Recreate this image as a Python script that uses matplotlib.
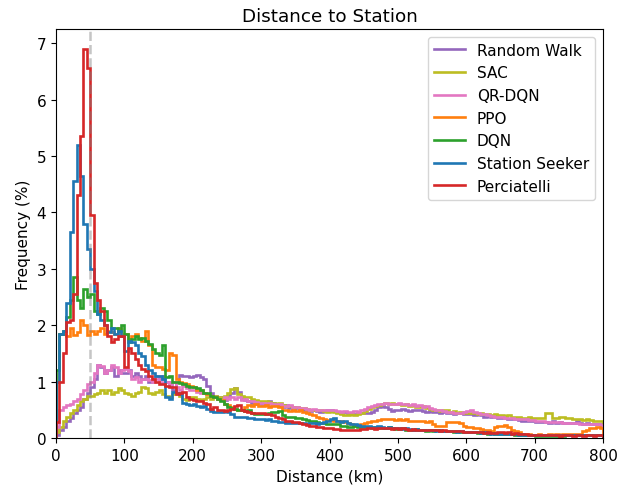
import numpy as np
import matplotlib
matplotlib.use("Agg")
import matplotlib.pyplot as plt

plt.rcParams["font.size"] = 11

# 5 km bins from 0 to 800 km, frequency in percent per bin
bin_edges = np.arange(0, 805, 5)

random_walk = [
    0.05, 0.15, 0.2, 0.3, 0.35, 0.45, 0.5, 0.55, 0.7, 0.8,
    0.9, 1.05, 1.3, 1.25, 1.15, 1.2, 1.25, 1.1, 1.2, 1.15,
    1.15, 1.2, 1.1, 1.15, 1.1, 1.05, 1.1, 1.0, 1.05, 1.1,
    1.05, 1.1, 1.0, 0.95, 0.85, 1.0, 1.12, 1.1, 1.1, 1.08,
    1.1, 1.12, 1.08, 1.05, 0.93, 0.8, 0.75, 0.7, 0.72, 0.68,
    0.75, 0.8, 0.88, 0.82, 0.7, 0.68, 0.65, 0.62, 0.6, 0.62,
    0.6, 0.58, 0.66, 0.62, 0.58, 0.56, 0.55, 0.58, 0.54, 0.55,
    0.53, 0.52, 0.5, 0.5, 0.48, 0.5, 0.48, 0.47, 0.48, 0.5,
    0.5, 0.48, 0.47, 0.45, 0.46, 0.44, 0.45, 0.43, 0.44, 0.45,
    0.45, 0.44, 0.47, 0.5, 0.55, 0.56, 0.55, 0.52, 0.48, 0.5,
    0.5, 0.52, 0.5, 0.48, 0.5, 0.49, 0.5, 0.48, 0.47, 0.48,
    0.47, 0.46, 0.45, 0.46, 0.44, 0.45, 0.43, 0.44, 0.45, 0.43,
    0.42, 0.43, 0.4, 0.42, 0.4, 0.38, 0.39, 0.38, 0.37, 0.36,
    0.36, 0.35, 0.34, 0.33, 0.33, 0.32, 0.31, 0.3, 0.31, 0.3,
    0.29, 0.28, 0.29, 0.28, 0.27, 0.3, 0.27, 0.28, 0.26, 0.27,
    0.27, 0.26, 0.3, 0.26, 0.25, 0.26, 0.25, 0.24, 0.25, 0.24,
]

sac = [
    0.1, 0.2, 0.3, 0.38, 0.45, 0.5, 0.58, 0.65, 0.7, 0.75,
    0.75, 0.78, 0.8, 0.85, 0.8, 0.85, 0.78, 0.82, 0.88, 0.85,
    0.8, 0.78, 0.75, 0.8, 0.82, 0.9, 0.88, 0.8, 0.78, 0.82,
    0.85, 0.78, 0.75, 0.72, 0.78, 0.8, 0.75, 0.7, 0.68, 0.72,
    0.72, 0.7, 0.68, 0.7, 0.72, 0.7, 0.75, 0.73, 0.72, 0.75,
    0.8, 0.87, 0.88, 0.78, 0.75, 0.73, 0.72, 0.7, 0.68, 0.66,
    0.66, 0.65, 0.63, 0.62, 0.6, 0.62, 0.58, 0.57, 0.56, 0.55,
    0.55, 0.54, 0.53, 0.52, 0.5, 0.5, 0.49, 0.5, 0.48, 0.47,
    0.48, 0.47, 0.45, 0.42, 0.4, 0.41, 0.42, 0.4, 0.42, 0.45,
    0.48, 0.52, 0.55, 0.56, 0.58, 0.6, 0.62, 0.6, 0.62, 0.6,
    0.6, 0.58, 0.6, 0.57, 0.58, 0.55, 0.55, 0.56, 0.53, 0.52,
    0.5, 0.5, 0.48, 0.5, 0.49, 0.47, 0.48, 0.45, 0.46, 0.45,
    0.44, 0.45, 0.44, 0.43, 0.44, 0.42, 0.43, 0.41, 0.42, 0.4,
    0.4, 0.39, 0.4, 0.38, 0.37, 0.38, 0.36, 0.36, 0.37, 0.35,
    0.35, 0.36, 0.35, 0.45, 0.45, 0.35, 0.36, 0.37, 0.38, 0.36,
    0.35, 0.34, 0.33, 0.34, 0.32, 0.33, 0.32, 0.31, 0.3, 0.3,
]

qr_dqn = [
    0.2, 0.5, 0.55, 0.58, 0.6, 0.65, 0.7, 0.78, 0.85, 0.95,
    1.0, 1.15, 1.3, 1.28, 1.15, 1.2, 1.3, 1.25, 1.15, 1.2,
    1.22, 1.18, 1.05, 1.08, 1.0, 1.05, 1.05, 1.02, 1.0, 1.05,
    1.0, 0.98, 1.0, 0.95, 1.0, 0.9, 0.85, 0.92, 0.88, 0.85,
    0.85, 0.82, 0.8, 0.8, 0.78, 0.75, 0.72, 0.7, 0.68, 0.72,
    0.7, 0.72, 0.7, 0.72, 0.68, 0.7, 0.65, 0.66, 0.63, 0.62,
    0.62, 0.6, 0.62, 0.6, 0.58, 0.6, 0.57, 0.56, 0.58, 0.55,
    0.55, 0.54, 0.53, 0.52, 0.5, 0.52, 0.5, 0.5, 0.49, 0.5,
    0.5, 0.49, 0.48, 0.47, 0.48, 0.46, 0.47, 0.48, 0.47, 0.5,
    0.52, 0.55, 0.56, 0.58, 0.6, 0.6, 0.62, 0.6, 0.61, 0.6,
    0.62, 0.6, 0.6, 0.58, 0.6, 0.57, 0.58, 0.55, 0.56, 0.54,
    0.52, 0.5, 0.5, 0.48, 0.47, 0.46, 0.45, 0.45, 0.44, 0.46,
    0.48, 0.5, 0.46, 0.44, 0.42, 0.42, 0.4, 0.39, 0.38, 0.38,
    0.37, 0.36, 0.36, 0.35, 0.34, 0.34, 0.33, 0.33, 0.32, 0.32,
    0.31, 0.3, 0.3, 0.29, 0.29, 0.28, 0.28, 0.28, 0.27, 0.27,
    0.27, 0.26, 0.26, 0.25, 0.25, 0.24, 0.25, 0.24, 0.24, 0.23,
]

ppo = [
    1.0, 1.85, 1.85, 1.8, 1.95, 1.83, 1.88, 2.1, 2.0, 1.83,
    1.9, 1.85, 1.9, 1.95, 1.85, 1.9, 1.88, 1.85, 1.95, 1.8,
    1.85, 1.75, 1.8, 1.85, 1.78, 1.72, 1.9, 1.65, 1.3, 1.25,
    1.25, 1.22, 1.2, 1.5, 1.48, 1.05, 1.0, 0.98, 0.95, 0.92,
    0.9, 0.85, 0.85, 0.8, 0.78, 0.75, 0.72, 0.7, 0.68, 0.6,
    0.58, 0.55, 0.52, 0.5, 0.5, 0.55, 0.58, 0.56, 0.6, 0.57,
    0.57, 0.58, 0.55, 0.56, 0.57, 0.55, 0.5, 0.5, 0.48, 0.5,
    0.48, 0.5, 0.47, 0.45, 0.42, 0.4, 0.38, 0.35, 0.34, 0.32,
    0.32, 0.31, 0.31, 0.3, 0.28, 0.27, 0.24, 0.22, 0.22, 0.24,
    0.26, 0.28, 0.3, 0.31, 0.32, 0.33, 0.33, 0.34, 0.33, 0.32,
    0.33, 0.32, 0.33, 0.31, 0.3, 0.3, 0.31, 0.3, 0.29, 0.3,
    0.24, 0.22, 0.22, 0.21, 0.28, 0.29, 0.28, 0.29, 0.27, 0.22,
    0.2, 0.19, 0.18, 0.17, 0.16, 0.15, 0.14, 0.13, 0.2, 0.22,
    0.22, 0.23, 0.2, 0.15, 0.12, 0.1, 0.08, 0.07, 0.07, 0.06,
    0.06, 0.07, 0.06, 0.06, 0.07, 0.06, 0.07, 0.06, 0.07, 0.08,
    0.07, 0.08, 0.07, 0.08, 0.12, 0.15, 0.18, 0.17, 0.2, 0.18,
]

dqn = [
    1.2, 1.85, 1.9, 2.15, 2.45, 2.85, 2.45, 2.3, 2.65, 2.5,
    2.55, 2.25, 2.2, 2.3, 2.25, 2.1, 1.95, 1.95, 1.9, 2.0,
    1.85, 1.7, 1.75, 1.8, 1.75, 1.78, 1.72, 1.67, 1.58, 1.5,
    1.48, 1.64, 1.08, 1.1, 1.0, 1.0, 0.98, 0.95, 0.92, 0.9,
    0.9, 0.88, 0.85, 0.8, 0.8, 0.75, 0.72, 0.7, 0.65, 0.6,
    0.55, 0.53, 0.52, 0.5, 0.5, 0.48, 0.5, 0.45, 0.43, 0.43,
    0.43, 0.42, 0.45, 0.47, 0.46, 0.48, 0.4, 0.38, 0.37, 0.37,
    0.36, 0.35, 0.33, 0.32, 0.3, 0.3, 0.28, 0.26, 0.26, 0.25,
    0.25, 0.24, 0.25, 0.22, 0.22, 0.2, 0.2, 0.21, 0.2, 0.19,
    0.2, 0.19, 0.18, 0.2, 0.18, 0.17, 0.18, 0.2, 0.18, 0.16,
    0.16, 0.17, 0.15, 0.15, 0.14, 0.16, 0.15, 0.14, 0.13, 0.14,
    0.13, 0.14, 0.12, 0.13, 0.12, 0.12, 0.11, 0.12, 0.1, 0.11,
    0.1, 0.11, 0.1, 0.09, 0.1, 0.09, 0.08, 0.09, 0.08, 0.08,
    0.08, 0.07, 0.07, 0.08, 0.06, 0.06, 0.05, 0.06, 0.05, 0.05,
    0.04, 0.04, 0.03, 0.03, 0.03, 0.04, 0.03, 0.04, 0.04, 0.05,
    0.05, 0.05, 0.06, 0.05, 0.06, 0.06, 0.05, 0.06, 0.06, 0.06,
]

station_seeker = [
    1.0, 1.85, 1.9, 2.4, 3.65, 4.55, 5.2, 4.65, 3.8, 3.35,
    3.0, 2.6, 2.2, 2.1, 2.0, 1.88, 1.95, 1.85, 1.9, 1.8,
    1.55, 1.72, 1.7, 1.65, 1.5, 1.45, 1.3, 1.2, 1.15, 1.1,
    1.1, 1.05, 0.72, 0.7, 0.82, 0.8, 0.78, 0.62, 0.6, 0.58,
    0.6, 0.57, 0.55, 0.56, 0.52, 0.48, 0.47, 0.46, 0.47, 0.48,
    0.47, 0.42, 0.38, 0.37, 0.38, 0.37, 0.36, 0.35, 0.33, 0.34,
    0.33, 0.32, 0.33, 0.31, 0.3, 0.29, 0.28, 0.27, 0.27, 0.26,
    0.27, 0.26, 0.27, 0.25, 0.27, 0.26, 0.25, 0.27, 0.28, 0.3,
    0.33, 0.35, 0.3, 0.28, 0.3, 0.26, 0.25, 0.24, 0.23, 0.22,
    0.22, 0.21, 0.2, 0.2, 0.21, 0.19, 0.18, 0.19, 0.18, 0.17,
    0.17, 0.16, 0.17, 0.16, 0.15, 0.16, 0.15, 0.15, 0.14, 0.15,
    0.14, 0.13, 0.14, 0.13, 0.12, 0.13, 0.12, 0.11, 0.12, 0.11,
    0.1, 0.11, 0.1, 0.1, 0.09, 0.1, 0.09, 0.08, 0.09, 0.08,
    0.08, 0.08, 0.07, 0.07, 0.07, 0.06, 0.07, 0.06, 0.06, 0.06,
    0.06, 0.05, 0.06, 0.05, 0.05, 0.06, 0.05, 0.05, 0.06, 0.05,
    0.05, 0.06, 0.05, 0.05, 0.06, 0.05, 0.06, 0.06, 0.05, 0.06,
]

perciatelli = [
    0.28, 1.0, 1.5, 2.05, 2.1, 2.55, 4.3, 5.35, 6.9, 6.55,
    3.95, 2.75, 2.45, 2.25, 2.0, 1.8, 1.7, 1.75, 1.8, 1.8,
    1.25, 1.6, 1.5, 1.4, 1.3, 1.22, 1.18, 1.1, 1.05, 1.0,
    0.95, 0.95, 0.92, 0.9, 0.9, 0.78, 0.8, 0.82, 0.72, 0.7,
    0.68, 0.66, 0.65, 0.62, 0.6, 0.52, 0.55, 0.5, 0.5, 0.48,
    0.5, 0.52, 0.56, 0.58, 0.5, 0.48, 0.46, 0.45, 0.44, 0.44,
    0.45, 0.42, 0.42, 0.4, 0.38, 0.35, 0.33, 0.3, 0.3, 0.28,
    0.28, 0.26, 0.25, 0.23, 0.22, 0.22, 0.2, 0.19, 0.18, 0.18,
    0.17, 0.16, 0.16, 0.15, 0.15, 0.14, 0.15, 0.14, 0.15, 0.16,
    0.16, 0.17, 0.17, 0.16, 0.18, 0.17, 0.17, 0.18, 0.16, 0.17,
    0.16, 0.17, 0.16, 0.15, 0.16, 0.15, 0.15, 0.14, 0.15, 0.14,
    0.15, 0.14, 0.13, 0.14, 0.13, 0.12, 0.13, 0.12, 0.12, 0.11,
    0.11, 0.1, 0.1, 0.11, 0.1, 0.09, 0.1, 0.09, 0.09, 0.1,
    0.1, 0.09, 0.1, 0.08, 0.09, 0.08, 0.07, 0.07, 0.06, 0.06,
    0.06, 0.05, 0.05, 0.05, 0.06, 0.05, 0.05, 0.04, 0.05, 0.05,
    0.05, 0.04, 0.05, 0.05, 0.04, 0.05, 0.05, 0.04, 0.05, 0.05,
]

series = [
    ("Random Walk", random_walk, "tab:purple"),
    ("SAC", sac, "tab:olive"),
    ("QR-DQN", qr_dqn, "tab:pink"),
    ("PPO", ppo, "tab:orange"),
    ("DQN", dqn, "tab:green"),
    ("Station Seeker", station_seeker, "tab:blue"),
    ("Perciatelli", perciatelli, "tab:red"),
]

fig, ax = plt.subplots(figsize=(6.25, 4.89), dpi=100)
fig.subplots_adjust(left=0.0896, right=0.9648, top=0.9387, bottom=0.1022)

for name, vals, col in series:
    ax.stairs(vals, bin_edges, color=col, linewidth=1.9, label=name)

# station range marker
ax.axvline(50, color="gray", alpha=0.45, linestyle="--", linewidth=1.8)

ax.set_xlim(0, 800)
ax.set_ylim(0, 7.25)
ax.set_title("Distance to Station")
ax.set_xlabel("Distance (km)")
ax.set_ylabel("Frequency (%)")
ax.legend(loc="upper right")

fig.savefig("out.png", dpi=100)
